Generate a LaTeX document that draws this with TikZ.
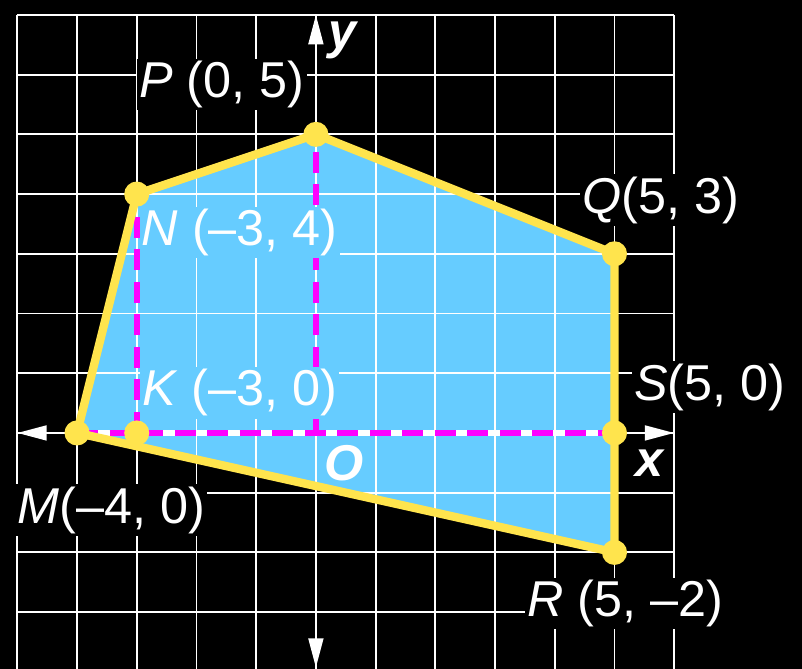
\documentclass[tikz,border=0pt]{standalone}
\usepackage{fontspec}
\setmainfont{Liberation Sans}
\usetikzlibrary{arrows.meta}
\definecolor{region}{RGB}{102,204,255}
\definecolor{edgeyellow}{RGB}{255,228,77}
\definecolor{dashpink}{RGB}{255,0,255}

\begin{document}
\begin{tikzpicture}[
  gridline/.style={white, line width=0.9pt},
  axis/.style={white, line width=1.3pt, {Triangle[length=14pt,width=7pt]}-{Triangle[length=14pt,width=7pt]}},
  guidebase/.style={white, line width=3pt},
  guide/.style={dashpink, line width=3pt, dash pattern=on 10pt off 5.5pt},
  border/.style={edgeyellow, line width=4pt, line join=round},
  vdot/.style={circle, fill=edgeyellow, inner sep=0pt, minimum size=0.42cm},
  point_label/.style={anchor=west, text=white, inner sep=1pt, font=\fontsize{24}{28}\selectfont},
  axis_label/.style={text=white, inner sep=0pt, font=\fontsize{24}{28}\selectfont\bfseries\itshape}
]
\fill[black] (-5.29,-3.95) rectangle (8.14,7.25);
\useasboundingbox (-5.29,-3.95) rectangle (8.14,7.25);
\coordinate (O) at (0,0);
\coordinate (M) at (-4,0);
\coordinate (K) at (-3,0);
\coordinate (N) at (-3,4);
\coordinate (P) at (0,5);
\coordinate (Q) at (5,3);
\coordinate (S) at (5,0);
\coordinate (R) at (5,-2);
\coordinate (xl) at (-5,0);
\coordinate (xr) at (6,0);
\coordinate (yb) at (0,-3.93);
\coordinate (yt) at (0,7);
\fill[region] (M) -- (N) -- (P) -- (Q) -- (R) -- cycle;
\foreach \x in {-5,...,6}{ \draw[gridline] (\x,-3.95) -- (\x,7); }
\foreach \y in {-3,...,7}{ \draw[gridline] (-5,\y) -- (6,\y); }
\draw[axis] (xl) -- (xr);
\draw[axis] (yb) -- (yt);
\draw[guidebase] (M) -- (S);
\draw[guide] (M) -- (S);
\draw[guide] (K) -- (N);
\draw[guide] (O) -- (P);
\node[point_label, fill=black] (labP) at (-3.0,5.83) {\textit{P} (0,\ 5)};
\node[point_label, fill=region] (labN) at (-2.96,3.35) {\textit{N} (\textendash3,\ 4)};
\node[point_label, fill=black] (labQ) at (4.42,3.90) {\textit{Q}(5,\ 3)};
\node[point_label, fill=black] (labS) at (5.29,0.77) {\textit{S}(5,\ 0)};
\node[point_label, fill=region] (labK) at (-2.95,0.67) {\textit{K} (\textendash3,\ 0)};
\node[point_label, fill=black] (labM) at (-5.04,-1.29) {\textit{M}(\textendash4,\ 0)};
\node[point_label, fill=black] (labR) at (3.50,-2.85) {\textit{R} (5,\ \textendash2)};
\node[axis_label] (labx) at (5.58,-0.5) {x};
\node[axis_label] (laby) at (0.45,6.58) {y};
\node[axis_label] (labO) at (0.47,-0.5) {O};
\draw[border] (M) -- (N) -- (P) -- (Q) -- (R) -- cycle;
\foreach \p in {M,K,N,P,Q,S,R}{ \node[vdot] (dot\p) at (\p) {}; }
\end{tikzpicture}
\end{document}
